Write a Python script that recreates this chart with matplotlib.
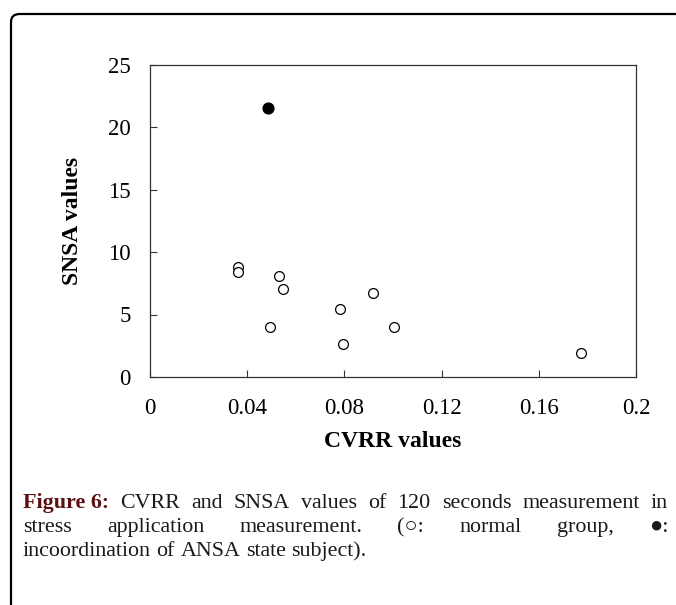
import matplotlib
matplotlib.use("Agg")
import matplotlib.pyplot as plt
from matplotlib.patches import FancyBboxPatch

# CVRR / SNSA values
normal_cvrr = [0.0361, 0.0361, 0.0532, 0.0549, 0.0782, 0.0494, 0.0796, 0.0919, 0.1003, 0.1772]
normal_snsa = [8.77, 8.37, 8.08, 7.07, 5.47, 4.03, 2.61, 6.72, 4.03, 1.95]
ansa_cvrr = [0.0487]
ansa_snsa = [21.5]

xticks = [0, 0.04, 0.08, 0.12, 0.16, 0.2]
xticklabels = ["0", "0.04", "0.08", "0.12", "0.16", "0.2"]
yticks = [0, 5, 10, 15, 20, 25]

caption_lines = [
    "Figure 6: CVRR and SNSA values of 120 seconds measurement in",
    "stress application measurement. (\u25cb: normal group, \u25cf:",
    "incoordination of ANSA state subject).",
]

W, H = 676, 605
fig = plt.figure(figsize=(W / 100, H / 100), dpi=100)

# rounded frame, cut off at right and bottom
frame = FancyBboxPatch((11 / W, -0.2), 1.2, (H - 14) / H + 0.2,
                       boxstyle="round,pad=0,rounding_size=0.013",
                       transform=fig.transFigure, fill=False,
                       edgecolor="black", linewidth=1.6)
fig.patches.append(frame)

ax = fig.add_axes([150 / W, (H - 377) / H, 486 / W, 312.5 / H])
serif = "Liberation Serif"

ax.scatter(normal_cvrr, normal_snsa, s=50, facecolors="white",
           edgecolors="black", linewidths=0.9, zorder=3)
ax.scatter(ansa_cvrr, ansa_snsa, s=60, color="black", zorder=3)

ax.set_xlim(0, 0.2)
ax.set_ylim(0, 25)
ax.set_xticks(xticks)
ax.set_xticklabels(xticklabels)
ax.set_yticks(yticks)
ax.tick_params(direction="in", length=5, width=0.8, colors="#333333",
               labelcolor="black", labelsize=16.5)
ax.tick_params(axis="x", pad=15)
ax.tick_params(axis="y", pad=14)
for lab in ax.get_xticklabels() + ax.get_yticklabels():
    lab.set_fontfamily(serif)
for sp in ax.spines.values():
    sp.set_linewidth(0.9)
    sp.set_color("#333333")

ax.set_xlabel("CVRR values", fontfamily=serif, fontweight="bold",
              fontsize=17, labelpad=9)
ax.set_ylabel("SNSA values", fontfamily=serif, fontweight="bold",
              fontsize=17, labelpad=18)

# caption, justified like the source page
fig.canvas.draw()
renderer = fig.canvas.get_renderer()
cap_fam = [serif, "DejaVu Sans"]
cap_size = 15.8
left, right = 23, 668
baselines = [508, 532, 556]


def word_width(txt, weight="normal"):
    t = fig.text(0, 0, txt, fontsize=cap_size, family=cap_fam, fontweight=weight)
    w = t.get_window_extent(renderer).width
    t.remove()
    return w


for i, line in enumerate(caption_lines):
    words = line.split(" ")
    y = 1 - baselines[i] / H
    if i == 0:
        words = ["Figure 6:"] + words[2:]
    weights = ["bold" if (i == 0 and k == 0) else "normal" for k in range(len(words))]
    widths = [word_width(w, wt) for w, wt in zip(words, weights)]
    if i < 2:
        gap = (right - left - sum(widths)) / (len(words) - 1)
    else:
        gap = word_width("a b") - word_width("ab")
    x = left
    for w, wt, ww in zip(words, weights, widths):
        color = "#5c1010" if wt == "bold" else "#1a1a1a"
        fig.text(x / W, y, w, fontsize=cap_size, family=cap_fam,
                 fontweight=wt, color=color, va="baseline")
        x += ww + gap

fig.savefig("out.png", dpi=100)
